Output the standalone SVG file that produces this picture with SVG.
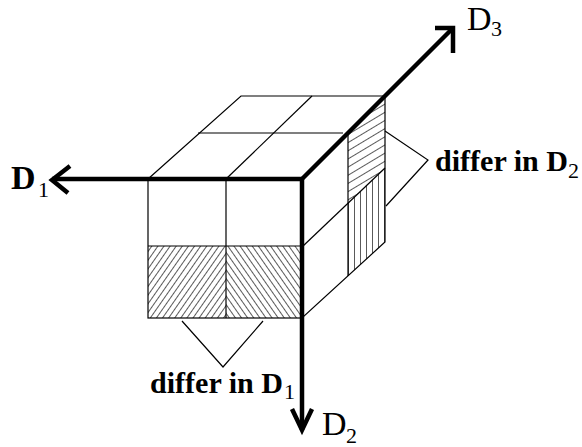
<svg xmlns="http://www.w3.org/2000/svg" width="582" height="447" viewBox="0 0 582 447">
<style>
.thin{fill:none;stroke:#000;stroke-width:1.2}
.thick{fill:none;stroke:#000;stroke-width:4.5;stroke-linecap:butt}
.head{fill:none;stroke:#000;stroke-width:4.5;stroke-linejoin:miter}
.ax{font-family:"Liberation Serif","Times New Roman",serif;font-size:34px;fill:#000}
.sub{font-family:"Liberation Serif","Times New Roman",serif;font-size:22px;fill:#000}
.lbl{font-family:"Liberation Serif","Times New Roman",serif;font-size:30px;font-weight:bold;fill:#000}
</style>
<defs>
<pattern id="hatchL" width="5" height="5" patternUnits="userSpaceOnUse" patternTransform="rotate(35)">
<line x1="0" y1="0" x2="0" y2="5" stroke="#000" stroke-width="1.3"/>
</pattern>
<pattern id="hatchR" width="5" height="5" patternUnits="userSpaceOnUse" patternTransform="rotate(-35)">
<line x1="0" y1="0" x2="0" y2="5" stroke="#000" stroke-width="1.3"/>
</pattern>
<pattern id="hatchH" width="7" height="7" patternUnits="userSpaceOnUse" patternTransform="rotate(-31)">
<line x1="0" y1="0" x2="7" y2="0" stroke="#000" stroke-width="1.3"/>
</pattern>
<pattern id="hatchV" width="6" height="6" patternUnits="userSpaceOnUse" x="348">
<line x1="0" y1="0" x2="0" y2="6" stroke="#000" stroke-width="1.3"/>
</pattern>
</defs>
<rect width="582" height="447" fill="#fff"/>

<g id="cube">
<polygon class="thin" points="148,179 241,96 385,96 302,179"/>
<line class="thin" x1="198" y1="133" x2="343" y2="133"/>
<line class="thin" x1="226" y1="179" x2="312" y2="96"/>
<rect x="148" y="246" width="78" height="72" fill="url(#hatchL)"/>
<rect x="226" y="246" width="76" height="72" fill="url(#hatchR)"/>
<rect class="thin" x="148" y="179" width="154" height="139"/>
<line class="thin" x1="226" y1="179" x2="226" y2="318"/>
<line class="thin" x1="148" y1="246" x2="302" y2="246"/>
<polygon points="348,133 385,96 385,168 348,203" fill="url(#hatchH)"/>
<polygon points="348,203 385,168 385,242 348,276" fill="url(#hatchV)"/>
<polygon class="thin" points="302,179 385,96 385,242 302,318"/>
<line class="thin" x1="302" y1="247" x2="385" y2="168"/>
<line class="thin" x1="348" y1="133" x2="348" y2="276"/>
</g>

<g id="connectors">
<line class="thick" x1="302" y1="179" x2="52" y2="179"/>
<polyline class="head" points="70,166 52,180 68,193"/>
<line class="thick" x1="302" y1="179" x2="302" y2="430"/>
<polyline class="head" points="292,409 302,430 312,409"/>
<line class="thick" x1="302" y1="179" x2="452" y2="29"/>
<polyline class="head" points="435,28 453,28 453,53"/>
<polyline class="thin" stroke-width="1.6" points="182,321 223,367 263,321"/>
<polyline class="thin" stroke-width="1.6" points="385,131 428,160 386,206"/>
</g>

<g id="label-D1">
<text class="ax" font-weight="bold" x="11" y="189">D</text><text class="sub" x="38" y="197">1</text>
</g>
<g id="label-D3">
<text class="ax" x="467" y="30">D</text><text class="sub" x="491" y="36">3</text>
</g>
<g id="label-D2">
<text class="ax" x="322" y="435">D</text><text class="sub" x="346" y="443">2</text>
</g>
<g id="label-differ-D1">
<text class="lbl" x="150" y="393" textLength="133" lengthAdjust="spacingAndGlyphs">differ in D</text><text class="sub" x="284" y="399">1</text>
</g>
<g id="label-differ-D2">
<text class="lbl" x="435" y="171" textLength="133" lengthAdjust="spacingAndGlyphs">differ in D</text><text class="sub" x="568" y="178">2</text>
</g>
</svg>
